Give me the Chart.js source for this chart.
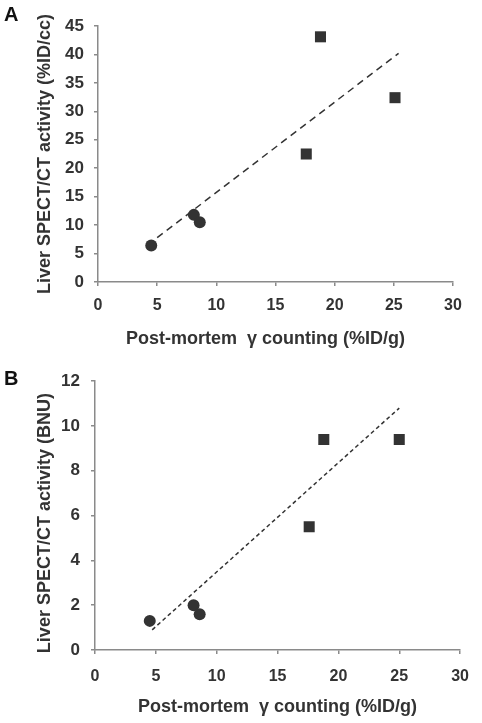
<!DOCTYPE html>
<html>
<head>
<meta charset="utf-8">
<script src="https://cdn.jsdelivr.net/npm/chart.js@4/dist/chart.umd.min.js"></script>
<style>
  html, body { margin: 0; padding: 0; background: #fff; }
  body { width: 482px; height: 723px; position: relative; overflow: hidden; font-family: "Liberation Sans", Arial, sans-serif; }
  .wrap { position: absolute; left: 0; width: 482px; }
  .panel { position: absolute; font: bold 20px "Liberation Sans", Arial, sans-serif; color: #111; }
</style>
</head>
<body>
<div class="wrap" style="top:0;height:360px;"><canvas id="cA" width="482" height="360"></canvas></div>
<div class="wrap" style="top:360px;height:363px;"><canvas id="cB" width="482" height="363"></canvas></div>
<div class="panel" style="left:4px;top:3px;">A</div>
<div class="panel" style="left:4px;top:367px;">B</div>
<script>
// ---- Panel A data ----
const circleXA = [4.5, 8.1, 8.6];
const circleYA = [6.4, 11.8, 10.5];
const squareXA = [17.6, 18.8, 25.1];
const squareYA = [22.5, 43.1, 32.4];
const trendXA = [5.0, 25.4];
const trendYA = [7.8, 40.2];
const yTitleA = 'Liver SPECT/CT activity (%ID/cc)';

// ---- Panel B data ----
const circleXB = [4.5, 8.1, 8.6];
const circleYB = [1.3, 2.0, 1.6];
const squareXB = [17.6, 18.8, 25.0];
const squareYB = [5.5, 9.4, 9.4];
const trendXB = [4.7, 25.0];
const trendYB = [0.9, 10.8];
const yTitleB = 'Liver SPECT/CT activity (BNU)';

const xTitle = 'Post-mortem  \u03b3 counting (%ID/g)';

const pts = (xs, ys) => xs.map((x, i) => ({x: x, y: ys[i]}));
const pad = (s, n) => s + '\u00a0'.repeat(n);

function makeChart(id, cfg) {
  const textColor = '#333';
  const axisColor = '#8a8a8a';
  const fam = '"Liberation Sans", Arial, sans-serif';
  const xFont = {family: fam, weight: 'bold', size: 16};
  const yFont = {family: fam, weight: 'bold', size: 17};
  const tFont = {family: fam, weight: 'bold', size: 18};
  return new Chart(document.getElementById(id), {
    type: 'scatter',
    data: {
      datasets: [
        {data: pts(cfg.cx, cfg.cy), pointStyle: 'circle', pointRadius: 6, backgroundColor: '#333', borderColor: '#333', borderWidth: 0},
        {data: pts(cfg.sx, cfg.sy), pointStyle: 'rect', pointRadius: 7.8, backgroundColor: '#333', borderColor: '#333', borderWidth: 0},
        {type: 'line', data: pts(cfg.tx, cfg.ty), showLine: true, pointRadius: 0, borderColor: '#333', borderWidth: 1.5, borderDash: cfg.dash, fill: false}
      ]
    },
    options: {
      responsive: false,
      animation: false,
      devicePixelRatio: 1,
      layout: {padding: {left: 0, right: cfg.padR, top: cfg.padT, bottom: cfg.padB}},
      plugins: {legend: {display: false}, tooltip: {enabled: false}},
      scales: {
        x: {
          type: 'linear', min: 0, max: 30,
          ticks: {stepSize: 5, color: textColor, font: xFont, padding: cfg.xTickPad, maxRotation: 0},
          grid: {drawOnChartArea: false, drawTicks: true, tickLength: 4, color: axisColor, lineWidth: 1.5},
          border: {display: true, color: axisColor, width: 1.5},
          title: {display: true, text: pad(xTitle, cfg.xTitleShift), color: textColor, font: tFont, padding: 0},
          afterFit: (s) => { s.height = cfg.xH; }
        },
        y: {
          type: 'linear', min: 0, max: cfg.yMax,
          ticks: {stepSize: cfg.yStep, color: textColor, font: yFont, padding: cfg.yTickPad},
          grid: {drawOnChartArea: false, drawTicks: true, tickLength: 4, color: axisColor, lineWidth: 1.5},
          border: {display: true, color: axisColor, width: 1.5},
          title: {display: true, text: pad(cfg.yTitle, cfg.yTitleShift), color: textColor, font: tFont, padding: {top: cfg.yTitlePad, bottom: 0}},
          afterFit: (s) => { s.width = cfg.yW; }
        }
      }
    }
  });
}

makeChart('cA', {
  cx: circleXA, cy: circleYA, sx: squareXA, sy: squareYA, tx: trendXA, ty: trendYA,
  dash: [7, 5], yMax: 45, yStep: 5, yTitle: yTitleA, xTitleShift: 4, yTitleShift: 0,
  padR: 29, padT: 26, padB: 10.5, xH: 67.5, yW: 98, xTickPad: 10, yTickPad: 10, yTitlePad: 34
});
makeChart('cB', {
  cx: circleXB, cy: circleYB, sx: squareXB, sy: squareYB, tx: trendXB, ty: trendYB,
  dash: [4, 3], yMax: 12, yStep: 2, yTitle: yTitleB, xTitleShift: 0, yTitleShift: 3,
  padR: 13, padT: 21, padB: 5.5, xH: 67.5, yW: 95, xTickPad: 13, yTickPad: 11, yTitlePad: 34
});
</script>
</body>
</html>
